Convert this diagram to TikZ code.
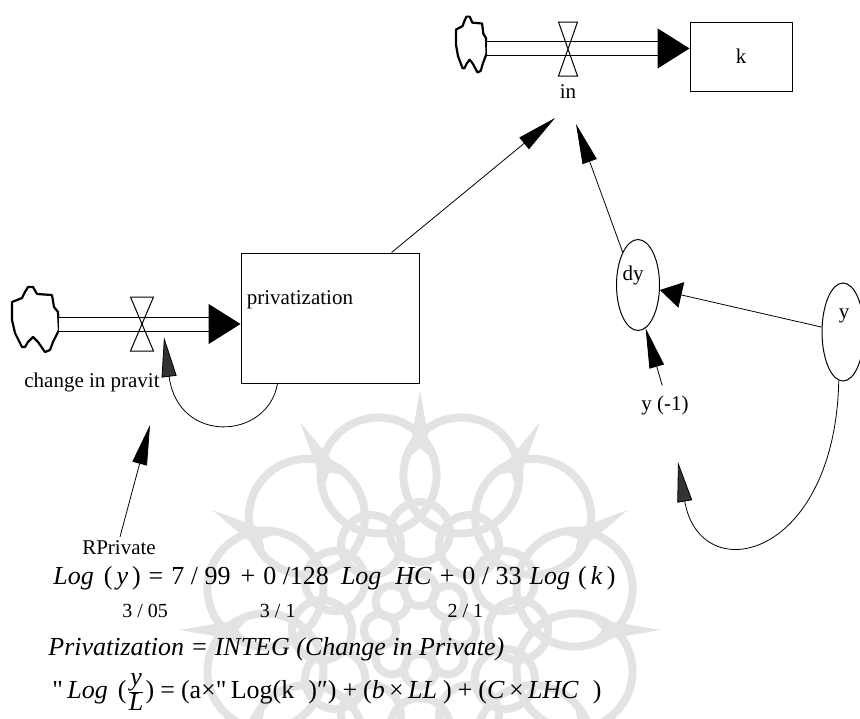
\documentclass[tikz,border=0pt]{standalone}
\usepackage{fontspec}
\setmainfont{Liberation Serif}
\newfontfamily\rawq{Liberation Serif}[Ligatures=TeXOff]
\usetikzlibrary{arrows.meta,positioning,shapes.geometric,calc}

\tikzset{stock/.style={draw, rectangle, line width=0.5pt, inner sep=0pt}}
\tikzset{aux/.style={draw, ellipse, line width=0.5pt, inner sep=0pt}}
\tikzset{lbl/.style={font=\fontsize{10.5}{12}\selectfont, inner sep=0pt}}
\tikzset{eqn/.style={font=\fontsize{13}{15}\selectfont, inner sep=0pt, anchor=base west}}
\tikzset{pipe/.style={draw, line width=0.5pt, double distance=6.5pt, -{Triangle[length=16pt,width=20pt]}}}
\tikzset{info/.style={draw, line width=0.4pt, -{Triangle[length=20pt,width=7.5pt]}}}
\tikzset{loop/.style={draw, line width=0.4pt, -{Triangle[length=20pt,width=7.5pt,fill=black!80]}}}
\tikzset{wm/.style={draw=black!11, line width=4pt}}
\tikzset{srccloud/.pic={
  \draw[line width=1.1pt, line join=round] (-10,-28) -- (-7,-33) -- (-2,-33) -- (2,-26) -- (17,-25)
    -- (19,-13) -- (23,-8) -- (24,10) -- (18,22) -- (15,30) -- (10,32) -- (3,22) -- (-2,17)
    -- (-7,22) -- (-10,27) -- (-13,27) -- (-20,13) -- (-23,0) -- (-23,-18) -- (-13,-22) -- cycle;
  \coordinate (-e) at (24,4);
}}
\tikzset{valvepic/.pic={
  \draw[line width=0.5pt] (-10,-27) -- (10,-27) -- (-10,27) -- (10,27) -- cycle;
  \coordinate (-s) at (0,27);
}}

\begin{document}
\begin{tikzpicture}[x=0.5pt, y=-0.5pt]
  \useasboundingbox (0,0) rectangle (860,718);
  %% watermark
  \begin{scope}[shift={(420,630)}, wm]
    \foreach \a in {0,30,...,330}{
      \fill[black!11] (\a:240) -- (\a+4:172) -- (\a:182) -- (\a-4:172) -- cycle;
      \draw (\a+15:160) circle (58);
      \draw (\a:98) circle (30);
    }
    \foreach \a in {0,45,...,315} \draw (\a:40) circle (16);
  \end{scope}
  %% capital k
  \pic[xscale=0.65, yscale=0.86] (cloudK) at (471,45) {srccloud};
  \node[stock, lbl, minimum width=51pt, minimum height=34.5pt] (k) at (741,56.5) {k};
  \draw[pipe] (cloudK-e) -- (cloudK-e -| k.west);
  \pic[xscale=0.95] (vIn) at (568,49) {valvepic};
  \node[lbl, below=4pt of vIn-s] (inT) {in};
  %% privatization
  \pic (cloudP) at (35,320) {srccloud};
  \node[stock, minimum width=89pt, minimum height=65pt] (priv) at (330,318) {};
  \node[lbl, anchor=west] (privT) at ($(priv.west)+(6,-18)$) {privatization};
  \draw[pipe] (cloudP-e) -- (cloudP-e -| priv.west);
  \pic[xscale=1.15] (vPriv) at (142,324) {valvepic};
  \node[lbl] (changeT) at (92,382) {change in pravit};
  %% auxiliaries
  \node[aux, minimum width=21.5pt, minimum height=45.5pt] (dy) at (638,285) {};
  \node[lbl] (dyT) at (633,275) {dy};
  \node[aux, minimum width=21pt, minimum height=49pt] (y) at (843,332) {};
  \node[lbl] (yT) at (844,316) {y};
  \node[lbl] (ylag) at (665,405) {y (-1)};
  \node[lbl] (rpriv) at (119,548) {RPrivate};
  %% links
  \coordinate (inA) at (555,118);
  \coordinate (inB) at (576,124);
  \coordinate (dyLoop) at (678,462);
  \coordinate (privLoop) at (164,337);
  \coordinate (rTip) at (150,425);
  \draw[info] ($(priv.north west)+(151,0)$) -- (inA);
  \draw[info] (dy.115) -- (inB);
  \draw[draw, line width=0.4pt, -{Triangle[length=11pt,width=13pt]}] (y) -- (dy);
  \draw[info, shorten <=5pt] (ylag.north) -- (dy.-80);
  \draw[loop] (y.-95) .. controls (835,560) and (700,590) .. (dyLoop);
  \draw[loop] ($(priv.south west)+(37,0)$) .. controls (268,440) and (178,445) .. (privLoop);
  \draw[info, shorten <=2pt] (rpriv.north) -- (rTip);
  %% equations
  \node[eqn] (eq1) at (53,584) {\textit{Log}\hspace{5pt}(\hspace{2pt}\textit{y}\hspace{2pt})\hspace{4pt}=\hspace{4pt}7 / 99\hspace{5pt}+\hspace{4pt}0 /128\hspace{6pt}\textit{Log}\hspace{7pt}\textit{HC}\hspace{4pt}+\hspace{4pt}0 / 33\hspace{4pt}\textit{Log}\hspace{4pt}(\hspace{2pt}\textit{k}\hspace{2pt})};
  \node[eqn, font=\fontsize{10}{12}\selectfont] (eq2) at (122,617) {3 / 05\hspace{46pt}3 / 1\hspace{76pt}2 / 1};
  \node[eqn] (eq3) at (48,655) {\textit{Privatization = INTEG (Change in Private)}};
  \node[eqn] (eq4) at (52,698) {{\rawq "}\,\textit{Log}\hspace{5pt}($\frac{\textit{y}}{\textit{L}}$)\hspace{3pt}=\hspace{3pt}(a×{\rawq "}\,Log(k\hspace{7pt})″)\hspace{3pt}+\hspace{3pt}(\textit{b}\,×\,\textit{LL}\hspace{3pt})\hspace{3pt}+\hspace{3pt}(\textit{C}\,×\,\textit{LHC}\hspace{7pt})};
\end{tikzpicture}
\end{document}
